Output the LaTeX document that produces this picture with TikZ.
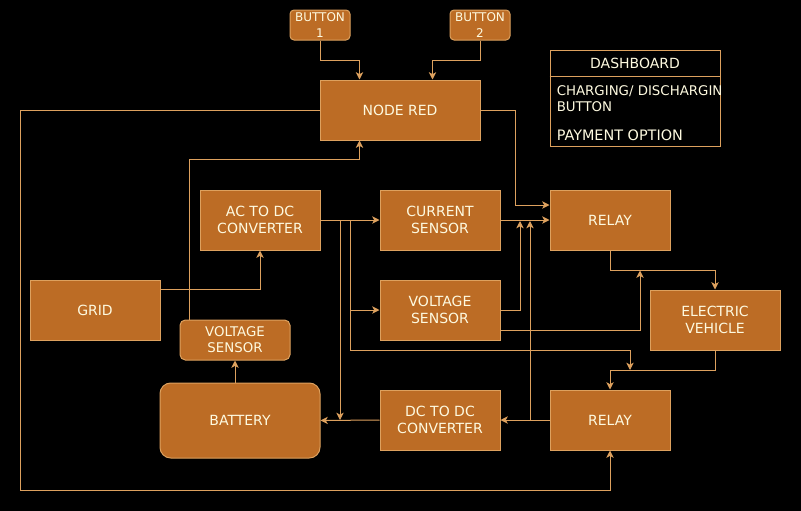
\documentclass[tikz,border=0pt]{standalone}
\usepackage{fontspec}
\setmainfont{DejaVu Sans}
\usetikzlibrary{arrows.meta,calc}
\definecolor{fillc}{HTML}{BC6C25}
\definecolor{strokec}{HTML}{DDA15E}
\definecolor{textc}{HTML}{FEFAE0}
\begin{document}
\begin{tikzpicture}[x=0.75pt,y=-0.75pt,
  box/.style={draw=strokec, fill=fillc, text=textc, line width=0.75pt, align=center,
    font=\fontsize{10.5}{12.5}\selectfont, inner sep=0pt},
  sz/.style 2 args={minimum width=#1*0.75pt, minimum height=#2*0.75pt},
  arr/.style={draw=strokec, line width=0.75pt, -{Stealth[length=5.5pt,width=5.5pt,inset=1.5pt]}},
  ln/.style={draw=strokec, line width=0.75pt},
  dtext/.style={text=textc, inner sep=0pt}]
\fill[black] (0,0) rectangle (801,511);
\useasboundingbox (0,0) rectangle (801,511);

% nodes
\node[box, sz={60}{30}, rounded corners=3pt, font=\fontsize{9}{11.5}\selectfont] (b1) at (320,25) {BUTTON\\1};
\node[box, sz={60}{30}, rounded corners=3pt, font=\fontsize{9}{11.5}\selectfont] (b2) at (480,25) {BUTTON\\2};
\node[box, sz={160}{60}] (nr) at (400,110) {NODE RED};
\node[box, sz={120}{60}] (acdc) at (260,220) {AC TO DC\\CONVERTER};
\node[box, sz={120}{60}] (cs) at (440,220) {CURRENT\\SENSOR};
\node[box, sz={120}{60}] (rt) at (610,220) {RELAY};
\node[box, sz={130}{60}] (grid) at (95,310) {GRID};
\node[box, sz={120}{60}] (vs1) at (440,310) {VOLTAGE\\SENSOR};
\node[box, sz={130}{60}] (ev) at (715,320) {ELECTRIC\\VEHICLE};
\node[box, sz={110}{40}, rounded corners=4pt, font=\fontsize{10}{12}\selectfont] (vs2) at (235,340) {VOLTAGE\\SENSOR};
\node[box, sz={160}{75}, rounded corners=8pt] (bat) at (240,420.5) {BATTERY};
\node[box, sz={120}{60}] (dcdc) at (440,420) {DC TO DC\\CONVERTER};
\node[box, sz={120}{60}] (rb) at (610,420) {RELAY};

% dashboard
\node[draw=strokec, line width=0.75pt, sz={170}{96}, inner sep=0pt] (db) at (635,98.5) {};
\draw[ln] (db.west |- 0,76.3) -- (db.east |- 0,76.3);
\node[dtext, font=\fontsize{10.5}{12.5}\selectfont] (dbh) at (635,63.5) {DASHBOARD};
\begin{scope}
\clip (db.south west) rectangle (db.north east);
\node[dtext, anchor=base west, font=\fontsize{10}{12}\selectfont] (dbi1) at (556.5,95) {CHARGING/ DISCHARGING};
\end{scope}
\node[dtext, anchor=base west, font=\fontsize{10}{12}\selectfont] (dbi2) at (556.5,111) {BUTTON};
\node[dtext, anchor=base west, font=\fontsize{10.8}{13}\selectfont] (dbi3) at (556.5,140) {PAYMENT OPTION};

% junction coordinates
\coordinate (ja) at (350,220);
\coordinate (jb) at (340,220);
\coordinate (p4) at (515,205);
\coordinate (t1) at (630,370);
\coordinate (t2) at (520,221);
\coordinate (t3) at (530,221);
\coordinate (t4) at (640,270.5);
\coordinate (jc) at (530,420);

% connectors
\draw[arr] (b1.south) -- ++(0,20) -| ([xshift=30pt]nr.north west);
\draw[arr] (b2.south) -- ++(0,20) -| ([xshift=-36pt]nr.north east);
\draw[arr] (nr.west) -| (20,490) -| (rb.south);
\draw[arr] (nr.east) -| (p4) -- (p4 -| rt.west);
\draw[arr] ([xshift=7.5pt]vs2.north west) -- ++(0,-160) -| ([xshift=30pt]nr.south west);
\draw[arr] ([yshift=-7.5pt]grid.north east) -| (acdc.south);
\draw[arr] (acdc.east) -- (cs.west);
\draw[arr] (ja) |- (vs1.west);
\draw[arr] (ja) -- (350,350) -| (t1);
\draw[arr] (jb) -- (jb |- dcdc.west);
\draw[arr] (cs.east) -- (rt.west);
\draw[arr] (vs1.east) -| (t2);
\draw[arr] (rb.west) -- (dcdc.east);
\draw[arr] (jc) -- (t3);
\draw[arr] ([yshift=-15pt]vs1.east) -| (t4);
\draw[arr] (rt.south) -- ++(0,20) -| (ev.north);
\draw[arr] (ev.south) -- ++(0,20) -| (rb.north);
\draw[arr] (vs2.south |- bat.north) -- (vs2.south);
\draw[arr] (dcdc.west) -- (bat.east);
\end{tikzpicture}
\end{document}
